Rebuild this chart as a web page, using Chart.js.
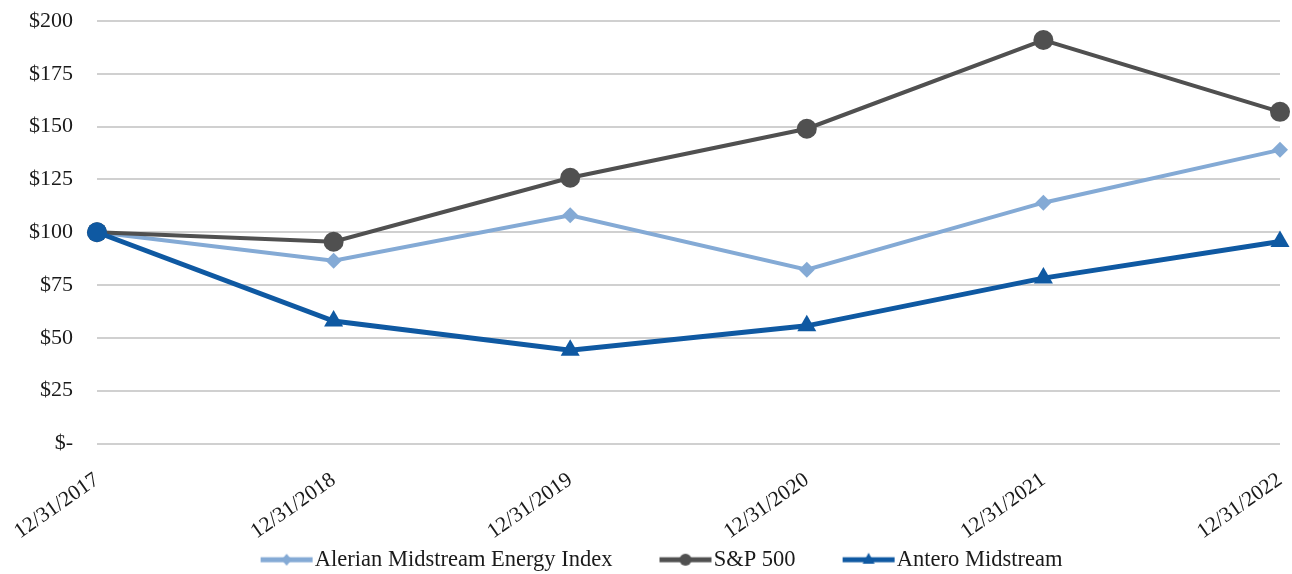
<!DOCTYPE html>
<html>
<head>
<meta charset="utf-8">
<script src="https://cdn.jsdelivr.net/npm/chart.js@4.4.1/dist/chart.umd.min.js"></script>
<style>
  html, body { margin: 0; padding: 0; background: #ffffff; }
  #wrap { width: 1292px; height: 574px; position: relative; }
</style>
</head>
<body>
<div id="wrap"><canvas id="c" width="1292" height="574"></canvas></div>
<script>
const categories = ['12/31/2017', '12/31/2018', '12/31/2019', '12/31/2020', '12/31/2021', '12/31/2022'];
const alerianValues = [100, 86.5, 108, 82.3, 114, 139];
const sp500Values = [100, 95.5, 125.8, 149, 191, 157];
const anteroValues = [100, 58, 44.2, 55.7, 78.3, 95.6];
const seriesNames = ['Alerian Midstream Energy Index', 'S&P 500', 'Antero Midstream'];
const yTickValues = [0, 25, 50, 75, 100, 125, 150, 175, 200];

const COLORS = {
  alerian: '#84aad5',
  sp: '#505050',
  antero: '#0f59a2'
};
const FONT = 'Liberation Serif';

function legendMarker(color, shape, lw) {
  const W = 86 + 20, H = 24;
  const c = document.createElement('canvas');
  c.width = W; c.height = H;
  const g = c.getContext('2d');
  const x1 = W - 1, x0 = x1 - 52, cy = H / 2, cx = (x0 + x1) / 2;
  g.strokeStyle = color; g.lineWidth = lw; g.lineCap = 'butt';
  g.beginPath(); g.moveTo(x0, cy); g.lineTo(x1, cy); g.stroke();
  g.fillStyle = color;
  g.beginPath();
  if (shape === 'circle') { g.arc(cx, cy, 6, 0, Math.PI * 2); }
  else if (shape === 'diamond') { g.moveTo(cx, cy - 6); g.lineTo(cx + 5, cy); g.lineTo(cx, cy + 6); g.lineTo(cx - 5, cy); g.closePath(); }
  else { g.moveTo(cx, cy - 7); g.lineTo(cx + 6, cy + 4); g.lineTo(cx - 6, cy + 4); g.closePath(); }
  g.fill();
  return c;
}
const markers = [
  legendMarker(COLORS.alerian, 'diamond', 5),
  legendMarker(COLORS.sp, 'circle', 5),
  legendMarker(COLORS.antero, 'triangle', 5)
];

const ctx = document.getElementById('c').getContext('2d');
new Chart(ctx, {
  type: 'line',
  data: {
    labels: categories,
    datasets: [
      {
        label: seriesNames[0], data: alerianValues, order: 2,
        borderColor: COLORS.alerian, backgroundColor: COLORS.alerian,
        borderWidth: 4, pointStyle: 'rectRot', pointRadius: 8, pointBorderWidth: 0,
        pointBackgroundColor: COLORS.alerian, tension: 0
      },
      {
        label: seriesNames[1], data: sp500Values, order: 1,
        borderColor: COLORS.sp, backgroundColor: COLORS.sp,
        borderWidth: 4, pointStyle: 'circle', pointRadius: 10, pointBorderWidth: 0,
        pointBackgroundColor: COLORS.sp, tension: 0
      },
      {
        label: seriesNames[2], data: anteroValues, order: 0,
        borderColor: COLORS.antero, backgroundColor: COLORS.antero,
        borderWidth: 5,
        pointStyle: (c) => c.dataIndex === 0 ? 'circle' : 'triangle',
        pointRadius: (c) => c.dataIndex === 0 ? 10 : 11,
        pointBorderWidth: 0,
        pointBackgroundColor: COLORS.antero, tension: 0
      }
    ]
  },
  options: {
    responsive: false,
    animation: false,
    devicePixelRatio: 1,
    layout: { padding: { left: 0, right: 12, top: 21, bottom: -7 } },
    plugins: {
      tooltip: { enabled: false },
      legend: {
        position: 'bottom',
        align: 'center',
        labels: {
          usePointStyle: true,
          pointStyleWidth: 86,
          padding: 4,
          color: '#1a1a1a',
          font: { family: FONT, size: 22.5 },
          generateLabels: (chart) => chart.data.datasets.map((ds, i) => ({
            text: ds.label,
            fillStyle: ds.borderColor,
            strokeStyle: ds.borderColor,
            lineWidth: 0,
            pointStyle: markers[i],
            hidden: false,
            datasetIndex: i,
            fontColor: '#1a1a1a'
          }))
        }
      }
    },
    scales: {
      x: {
        grid: { display: false },
        border: { display: false },
        ticks: {
          autoSkip: false,
          minRotation: 35, maxRotation: 35,
          padding: 16,
          color: '#1a1a1a',
          font: { family: FONT, size: 21.5 }
        },
        afterFit: (s) => { s.height = 101; s.paddingLeft = 0; s.paddingRight = 0; }
      },
      y: {
        min: 0, max: 200,
        afterBuildTicks: (s) => { s.ticks = yTickValues.map(v => ({ value: v })); },
        grid: { color: '#d0d0d0', lineWidth: 2, drawTicks: false },
        border: { display: false },
        ticks: {
          padding: 24,
          color: '#1a1a1a',
          font: { family: FONT, size: 22 },
          callback: (v) => v === 0 ? '$-' : '$' + v
        },
        afterFit: (s) => { s.width = 97; s.paddingTop = 0; s.paddingBottom = 0; }
      }
    }
  }
});
</script>
</body>
</html>
